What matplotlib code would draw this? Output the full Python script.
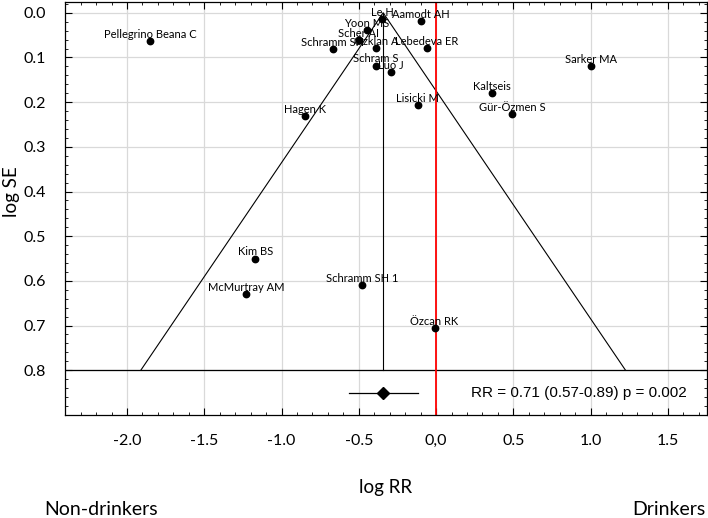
"""
Funnel plot (log RR x log SE) - non-drinkers vs drinkers
"""

import numpy as np
import matplotlib
matplotlib.use("Agg")
import matplotlib.pyplot as plt
from matplotlib.ticker import MultipleLocator, FixedLocator, FixedFormatter

# estudos
studies = ["Pellegrino Beana C", "Le H", "Aamodt AH", "Yoon MS", "Scher AI",
           "Schramm SH", "Özklan A", "Lebedeva ER", "Schram S", "Luo J",
           "Sarker MA", "Kaltseis", "Lisicki M", "Gür-Özmen S", "Hagen K",
           "Kim BS", "Schramm SH 1", "McMurtray AM", "Özcan RK"]
log_rr = [-1.85, -0.35, -0.10, -0.45, -0.50,
          -0.67, -0.39, -0.06, -0.39, -0.29,
          1.00, 0.36, -0.12, 0.49, -0.845,
          -1.17, -0.48, -1.23, -0.01]
log_se = [0.063, 0.013, 0.018, 0.039, 0.062,
          0.082, 0.078, 0.079, 0.118, 0.133,
          0.120, 0.180, 0.206, 0.226, 0.231,
          0.550, 0.610, 0.630, 0.705]

# efeito combinado
RR = 0.71
RR_LO, RR_HI = 0.57, 0.89
P_VALUE = 0.002
SE_MAX = 0.8

xticks = [-2.0, -1.5, -1.0, -0.5, 0.0, 0.5, 1.0, 1.5]
xtick_labels = ["-2.0", "-1.5", "-1.0", "-0.5", "0,0", "0.5", "1.0", "1.5"]
yticks = [0.0, 0.1, 0.2, 0.3, 0.4, 0.5, 0.6, 0.7, 0.8]

FONT = ["Lato", "DejaVu Sans"]


def main():
    plt.rcParams.update({
        "font.family": FONT,
        "xtick.direction": "in", "ytick.direction": "in",
        "xtick.top": True, "ytick.right": True,
        "xtick.minor.visible": True, "ytick.minor.visible": True,
    })

    fig = plt.figure(figsize=(7.08, 5.18), dpi=100)
    ax = fig.add_axes([0.092, 0.199, 0.906, 0.797])

    pooled = np.log(RR)
    lo, hi = np.log(RR_LO), np.log(RR_HI)

    # grade
    for x in xticks:
        ax.axvline(x, color="#d9d9d9", lw=0.9, zorder=0)
    for y in yticks:
        ax.axhline(y, color="#d9d9d9", lw=0.9, zorder=0)

    # funil
    ax.plot([pooled - 1.96 * SE_MAX, pooled, pooled + 1.96 * SE_MAX],
            [SE_MAX, 0, SE_MAX], color="black", lw=0.8, zorder=2)
    ax.plot([pooled, pooled], [0, SE_MAX], color="black", lw=0.8, zorder=2)
    ax.axhline(SE_MAX, color="black", lw=0.9, zorder=2)
    ax.axvline(0, color="red", lw=1.3, zorder=2)

    # estudos
    ax.plot(log_rr, log_se, "o", color="black", markersize=4.6, zorder=4)
    for name, x, y in zip(studies, log_rr, log_se):
        ax.annotate(name, (x, y), xytext=(0, 2.2), textcoords="offset points",
                    ha="center", va="baseline", fontsize=8, zorder=5)

    # estimativa combinada
    ax.plot([lo, hi], [0.85, 0.85], color="black", lw=0.9, zorder=3)
    ax.plot([pooled], [0.85], "D", color="black", markersize=6, zorder=4)
    ax.text(1.62, 0.85,
            f"RR = {RR:.2f} ({RR_LO:.2f}-{RR_HI:.2f}) p = {P_VALUE:.3f}",
            ha="right", va="center", fontsize=11,
            family=["Liberation Sans", "DejaVu Sans"])

    ax.set_xlim(-2.4, 1.75)
    ax.set_ylim(0.9, -0.024)
    ax.xaxis.set_major_locator(FixedLocator(xticks))
    ax.xaxis.set_major_formatter(FixedFormatter(xtick_labels))
    ax.xaxis.set_minor_locator(MultipleLocator(0.1))
    ax.yaxis.set_major_locator(FixedLocator(yticks))
    ax.yaxis.set_major_formatter(FixedFormatter([f"{v:.1f}" for v in yticks]))
    ax.yaxis.set_minor_locator(MultipleLocator(0.02))
    ax.tick_params(which="major", length=5, width=0.8, labelsize=11.5)
    ax.tick_params(which="minor", length=2.5, width=0.6)
    ax.tick_params(axis="x", which="major", pad=14)
    ax.tick_params(axis="y", which="major", pad=14)
    for s in ax.spines.values():
        s.set_linewidth(0.9)

    ax.set_xlabel("log RR", fontsize=13.5, labelpad=22)
    fig.text(0.016, 0.63, "log SE", rotation=90, ha="center", va="center",
             fontsize=13.5)
    fig.text(0.062, 0.006, "Non-drinkers", ha="left", va="baseline",
             fontsize=14)
    fig.text(0.996, 0.006, "Drinkers", ha="right", va="baseline", fontsize=14)

    fig.savefig("out.png", dpi=100)
    plt.close(fig)


if __name__ == "__main__":
    main()
